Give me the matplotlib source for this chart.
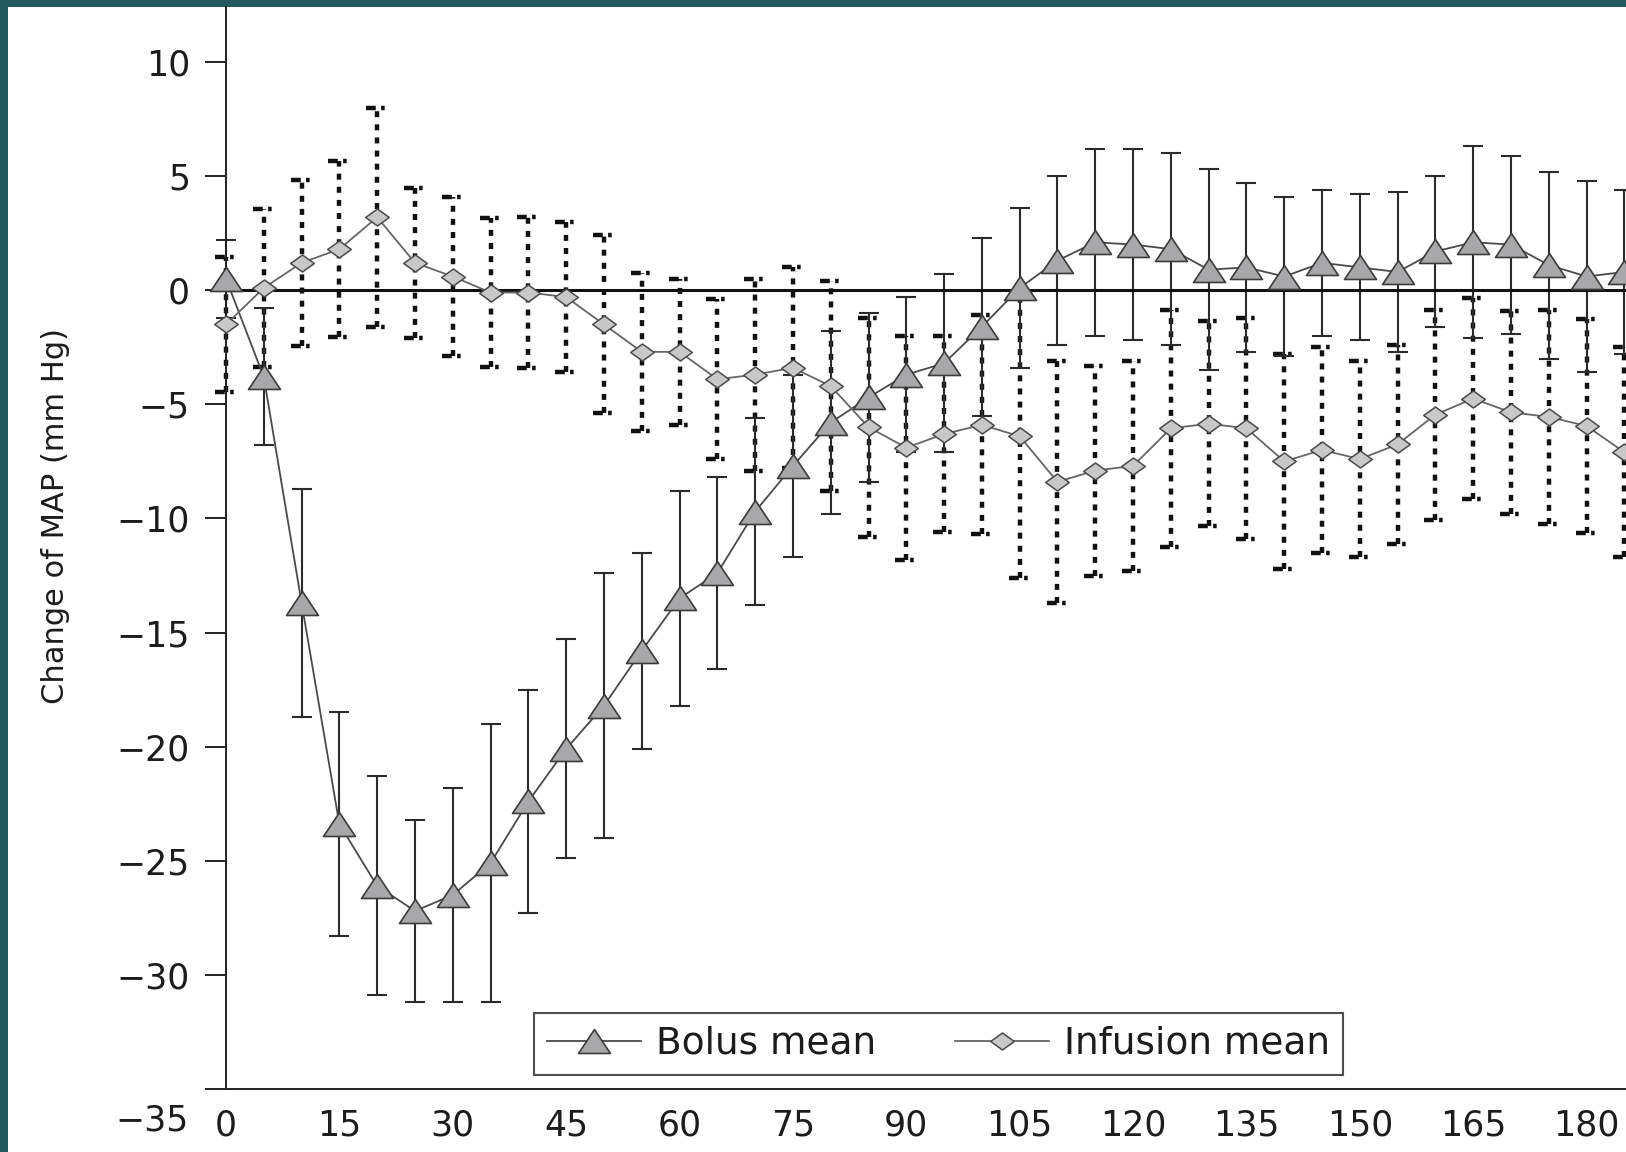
# Change of MAP after bolus vs infusion, mean +/- SD
# rebuilt from a scanned figure sitting on a slide

import numpy as np
import matplotlib
matplotlib.use('Agg')
import matplotlib.pyplot as plt
from matplotlib.patches import Rectangle
from matplotlib.path import Path

plt.rcParams['font.family'] = ['DejaVu Sans']

# minutes after start
minutes = [0, 5, 10, 15, 20, 25, 30, 35, 40, 45, 50, 55, 60, 65, 70, 75, 80,
           85, 90, 95, 100, 105, 110, 115, 120, 125, 130, 135, 140, 145, 150,
           155, 160, 165, 170, 175, 180, 185]

bolus_mean = [0.5, -3.8, -13.7, -23.4, -26.1, -27.2, -26.5, -25.1, -22.4,
              -20.1, -18.2, -15.8, -13.5, -12.4, -9.7, -7.7, -5.8, -4.7,
              -3.7, -3.2, -1.6, 0.1, 1.3, 2.1, 2.0, 1.8, 0.9, 1.0, 0.6, 1.2,
              1.0, 0.8, 1.7, 2.1, 2.0, 1.1, 0.6, 0.8]
bolus_sd = [1.7, 3.0, 5.0, 4.9, 4.8, 4.0, 4.7, 6.1, 4.9, 4.8, 5.8, 4.3, 4.7,
            4.2, 4.1, 4.0, 4.0, 3.7, 3.4, 3.9, 3.9, 3.5, 3.7, 4.1, 4.2, 4.2,
            4.4, 3.7, 3.5, 3.2, 3.2, 3.5, 3.3, 4.2, 3.9, 4.1, 4.2, 3.6]

infusion_mean = [-1.5, 0.1, 1.2, 1.8, 3.2, 1.2, 0.6, -0.1, -0.1, -0.3, -1.5,
                 -2.7, -2.7, -3.9, -3.7, -3.4, -4.2, -6.0, -6.9, -6.3, -5.9,
                 -6.4, -8.4, -7.9, -7.7, -6.05, -5.85, -6.05, -7.5, -7.0,
                 -7.4, -6.75, -5.45, -4.75, -5.35, -5.55, -5.95, -7.1]
infusion_sd = [2.95, 3.45, 3.65, 3.85, 4.8, 3.3, 3.5, 3.25, 3.3, 3.3, 3.9,
               3.45, 3.2, 3.5, 4.2, 4.4, 4.6, 4.8, 4.9, 4.3, 4.8, 6.2, 5.3,
               4.6, 4.6, 5.2, 4.5, 4.85, 4.7, 4.5, 4.3, 4.35, 4.6, 4.4, 4.45,
               4.7, 4.7, 4.6]

x_ticks = [0, 15, 30, 45, 60, 75, 90, 105, 120, 135, 150, 165, 180]
y_ticks = [10, 5, 0, -5, -10, -15, -20, -25, -30, -35]

Y_LABEL = 'Change of MAP (mm Hg)'
LABELS = ['Bolus mean', 'Infusion mean']

# figure geometry (pixels of the 1626x1152 slide crop)
FIG_W = 1626
FIG_H = 1152
DPI = 100
AX_LEFT = 226
AX_BOTTOM = 63
AX_TOP = 7

BORDER = '#245a5f'
INK = '#1c1c1c'
FONT_SIZE = 25
LEGEND_SIZE = 27
CAP_HALF = 1.45  # half width of dotted caps, in minutes

# stretched markers like in the scan
TRIANGLE = Path([(-1, -0.75), (1, -0.75), (0, 0.75), (-1, -0.75)], closed=True)
DIAMOND = Path([(0, 0.72), (1, 0), (0, -0.72), (-1, 0), (0, 0.72)], closed=True)


fig = plt.figure(figsize=(FIG_W / DPI, FIG_H / DPI), dpi=DPI, facecolor=BORDER)

# white page, the slide frame only shows on top and left
fig.patches.append(Rectangle((8 / FIG_W, 0), 1, 1 - AX_TOP / FIG_H,
                             transform=fig.transFigure, facecolor='white',
                             edgecolor='none', zorder=-10))

ax = fig.add_axes([AX_LEFT / FIG_W, AX_BOTTOM / FIG_H,
                   1 - AX_LEFT / FIG_W, (FIG_H - AX_TOP - AX_BOTTOM) / FIG_H])
ax.set_facecolor('white')

t = np.array(minutes, dtype=float)
inf_mean = np.array(infusion_mean)
inf_sd = np.array(infusion_sd)
inf_lo = inf_mean - inf_sd
inf_hi = inf_mean + inf_sd

# infusion SD: heavy dotted bars and caps
ax.vlines(t, inf_lo, inf_hi, colors='#111111', linewidth=3.2,
          linestyles=[(0, (1.35, 1.6))], zorder=2, clip_on=False)
for cap in (inf_lo, inf_hi):
  ax.hlines(cap, t - CAP_HALF, t + CAP_HALF, colors='#111111', linewidth=3.2,
            linestyles=[(0, (2.2, 1.2, 0.8, 1.2))], zorder=2, clip_on=False)

# bolus SD: plain bars with caps
eb = ax.errorbar(t, bolus_mean, yerr=bolus_sd, fmt='none', ecolor='#2b2b2b',
                 elinewidth=1.5, capsize=7.5, capthick=1.5, zorder=2.5)
for artist in list(eb.lines[1]) + list(eb.lines[2]):
  artist.set_clip_on(False)

# zero reference line
ax.axhline(0, color='#111111', linewidth=2.2, zorder=3)

ax.plot(t, bolus_mean, color='#4a4a4a', linewidth=1.3, marker=TRIANGLE,
        markersize=23, markerfacecolor='#a8a8aa', markeredgecolor='#3c3c3c',
        markeredgewidth=1.2, zorder=5, clip_on=False, label=LABELS[0])
ax.plot(t, infusion_mean, color='#666666', linewidth=1.3, marker=DIAMOND,
        markersize=17, markerfacecolor='#c8c8c8', markeredgecolor='#4a4a4a',
        markeredgewidth=1.1, zorder=5, clip_on=False, label=LABELS[1])

# axes
ax.set_xlim(0, (FIG_W - AX_LEFT) / 7.559)
ax.set_ylim(-35, 12.41)
for side in ('top', 'right'):
  ax.spines[side].set_visible(False)
for side in ('left', 'bottom'):
  ax.spines[side].set_color('#222222')
  ax.spines[side].set_linewidth(1.4)

ax.set_xticks(x_ticks)
ax.set_xticklabels([str(v) for v in x_ticks])
ax.set_yticks(y_ticks)
ax.set_yticklabels(['' if v == -35 else str(v).replace('-', '\u2212')
                    for v in y_ticks])
ax.tick_params(axis='y', length=15, width=1.4, pad=11, color='#222222',
               labelsize=FONT_SIZE, labelcolor=INK)
ax.tick_params(axis='x', length=0, pad=14, labelsize=FONT_SIZE,
               labelcolor=INK)

# the -35 label sits on the row of the time labels in the scan
ax.annotate(str(y_ticks[-1]).replace('-', '\u2212'), xy=(0, y_ticks[-1]),
            xycoords='data', xytext=(-27, -23), textcoords='offset points',
            ha='right', va='center', fontsize=FONT_SIZE, color=INK,
            annotation_clip=False)

fig.text(55 / FIG_W, 1 - 516 / FIG_H, Y_LABEL, rotation=90, ha='center',
         va='center', fontsize=22, color=INK)

leg = ax.legend(loc='lower left', bbox_to_anchor=(0.22, 0.013), ncol=2,
                frameon=True, fancybox=False, edgecolor='#222222',
                fontsize=LEGEND_SIZE, handlelength=2.5, handletextpad=0.4,
                columnspacing=2.1, borderpad=0.35, borderaxespad=0)
leg.get_frame().set_linewidth(1.5)
for text in leg.get_texts():
  text.set_color(INK)

fig.savefig('out.png', dpi=DPI, facecolor=BORDER)
